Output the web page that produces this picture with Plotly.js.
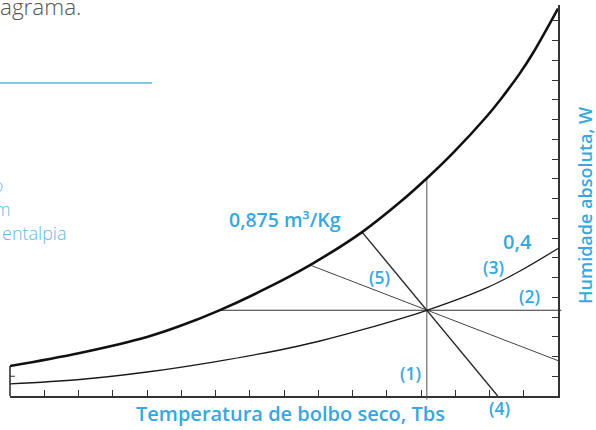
<!DOCTYPE html>
<html>
<head>
<meta charset="utf-8">
<script src="https://cdn.plot.ly/plotly-3.0.1.min.js"></script>
<style>
  html, body { margin: 0; padding: 0; background: #ffffff; }
  #chart { width: 596px; height: 430px; }
</style>
</head>
<body>
<div id="chart"></div>
<script>
// ---- Data ----
// Saturation curve (thick): dry-bulb temperature units vs absolute humidity units
const satX = [0, 2.04, 4.0, 4.96, 6.13, 7.39, 8.76, 10.28, 11.39, 12.18, 12.93, 13.93, 14.31, 14.89, 15.27, 16.0];
const satY = [1.52, 2.18, 2.99, 3.54, 4.35, 5.37, 6.63, 8.30, 9.82, 11.04, 12.30, 14.18, 14.99, 16.35, 17.37, 19.62];

// Relative humidity 0,4 curve
const rhX = [0, 2.04, 4.0, 5.93, 7.88, 9.05, 10.42, 12.17, 13.93, 14.89, 16.0];
const rhY = [0.61, 0.835, 1.215, 1.72, 2.33, 2.785, 3.42, 4.34, 5.49, 6.33, 7.47];

// State point
const stateX = 12.17;
const stateY = 4.34;

// (1) constant dry-bulb line
const line1X = [12.17, 12.17];
const line1Y = [0, 11.05];
// (2) constant absolute humidity line
const line2X = [6.13, 12.17, 16.0];
const line2Y = [4.34, 4.34, 4.34];
// (4) steep line through the state point
const line4X = [10.28, 12.17, 14.24];
const line4Y = [8.30, 4.34, 0];
// (5) specific-volume line through the state point
const line5X = [8.76, 12.17, 16.0];
const line5Y = [6.63, 4.34, 1.79];

// Labels inside the chart
const labelText = ["0,875 m³/Kg", "0,4", "(3)", "(2)", "(5)", "(1)"];
const labelX = [8.03, 14.83, 14.13, 15.18, 10.80, 11.68];
const labelY = [8.93, 7.83, 6.53, 5.06, 6.03, 1.16];
const labelSize = [19.5, 20, 17.5, 17.5, 17.5, 17.5];

const label4 = "(4)";
const xTitle = "Temperatura de bolbo seco, Tbs";
const yTitle = "Humidade absoluta, W";

// Fragments of the surrounding document page
const fragText = ["agrama.", "o", "m", "entalpia"];

// ---- Styles ----
const BLUE = "#37a7df";
const LIGHTBLUE = "#62b8e5";
const INK = "#1a1a1a";
const FONT = "'Open Sans', Lato, sans-serif";

function line(x, y, width, color, shape) {
  return { x: x, y: y, type: "scatter", mode: "lines",
           line: { width: width, color: color, shape: shape || "linear", smoothing: 1 },
           hoverinfo: "skip", showlegend: false };
}

const traces = [
  line(line1X, line1Y, 1, "#555555"),
  line(line2X, line2Y, 1.1, "#333333"),
  line(line5X, line5Y, 1, "#444444"),
  line(line4X, line4Y, 1.4, "#2a2a2a"),
  line(rhX, rhY, 1.3, INK, "spline"),
  line(satX, satY, 2.6, "#111111", "spline")
];

// plot area: x 10..558 px, y 5..396 px
function px2paperX(px) { return (px - 10) / 548; }
function py2paperY(py) { return (396 - py) / 391; }

const annotations = [];
for (let i = 0; i < labelText.length; i++) {
  annotations.push({
    text: labelText[i], x: labelX[i], y: labelY[i], xref: "x", yref: "y",
    showarrow: false, xanchor: "center", yanchor: "middle",
    font: { family: FONT, size: labelSize[i], color: BLUE, weight: 600 }
  });
}
annotations.push({
  text: label4, x: px2paperX(499.5), y: py2paperY(408), xref: "paper", yref: "paper",
  showarrow: false, xanchor: "center", yanchor: "middle",
  font: { family: FONT, size: 17.5, color: BLUE, weight: 600 }
});
annotations.push({
  text: xTitle, x: px2paperX(290), y: py2paperY(414), xref: "paper", yref: "paper",
  showarrow: false, xanchor: "center", yanchor: "middle",
  font: { family: FONT, size: 20, color: BLUE, weight: 600 }
});
annotations.push({
  text: yTitle, x: px2paperX(584.5), y: py2paperY(205.5), xref: "paper", yref: "paper",
  showarrow: false, xanchor: "center", yanchor: "middle", textangle: -90,
  font: { family: FONT, size: 18, color: BLUE, weight: 600 }
});
// page fragments
annotations.push({
  text: fragText[0], x: px2paperX(-2), y: py2paperY(6), xref: "paper", yref: "paper",
  showarrow: false, xanchor: "left", yanchor: "middle",
  font: { family: FONT, size: 22.5, color: "#555555", weight: 300 }
});
annotations.push({
  text: fragText[1], x: px2paperX(5), y: py2paperY(185), xref: "paper", yref: "paper",
  showarrow: false, xanchor: "right", yanchor: "middle",
  font: { family: FONT, size: 17.5, color: LIGHTBLUE, weight: 300 }
});
annotations.push({
  text: fragText[2], x: px2paperX(12), y: py2paperY(209), xref: "paper", yref: "paper",
  showarrow: false, xanchor: "right", yanchor: "middle",
  font: { family: FONT, size: 17.5, color: LIGHTBLUE, weight: 300 }
});
annotations.push({
  text: fragText[3], x: px2paperX(0), y: py2paperY(232.5), xref: "paper", yref: "paper",
  showarrow: false, xanchor: "left", yanchor: "middle",
  font: { family: FONT, size: 18, color: LIGHTBLUE, weight: 300 }
});

const shapes = [
  // short left axis, up to the saturation curve
  { type: "line", xref: "paper", yref: "y", x0: 0, x1: 0, y0: 0, y1: satY[0],
    line: { color: "#333333", width: 1.6 } },
  // left tick
  { type: "line", xref: "paper", yref: "y", x0: 0, x1: 0.009, y0: 1, y1: 1,
    line: { color: "#333333", width: 1 } },
  // dry-bulb line poking below the axis
  { type: "line", xref: "x", yref: "paper", x0: stateX, x1: stateX, y0: -0.009, y1: 0,
    line: { color: "#555555", width: 1 } },
  // humidity line poking past the right axis
  { type: "line", xref: "paper", yref: "y", x0: 1, x1: 1.006, y0: stateY, y1: stateY,
    line: { color: "#333333", width: 1.1 } },
  // blue rule of the document page
  { type: "line", xref: "paper", yref: "paper", x0: px2paperX(0), x1: px2paperX(152),
    y0: py2paperY(83), y1: py2paperY(83), line: { color: "#5ab3e2", width: 1.3 } }
];

const layout = {
  width: 596, height: 430,
  margin: { l: 10, r: 38, t: 5, b: 34, pad: 0 },
  paper_bgcolor: "#ffffff", plot_bgcolor: "#ffffff",
  showlegend: false,
  xaxis: {
    range: [0, 16], tick0: 0, dtick: 1, showgrid: false, zeroline: false,
    showline: true, linecolor: "#333333", linewidth: 1.8,
    ticks: "inside", ticklen: 6, tickwidth: 1, tickcolor: "#333333",
    showticklabels: false, fixedrange: true
  },
  yaxis: {
    range: [0, 19.8], tick0: 0, dtick: 1, side: "right", showgrid: false, zeroline: false,
    showline: true, linecolor: "#333333", linewidth: 1.8,
    ticks: "inside", ticklen: 6, tickwidth: 1, tickcolor: "#333333",
    showticklabels: false, fixedrange: true
  },
  annotations: annotations,
  shapes: shapes
};

Plotly.newPlot("chart", traces, layout, { displayModeBar: false, staticPlot: true });
</script>
</body>
</html>
